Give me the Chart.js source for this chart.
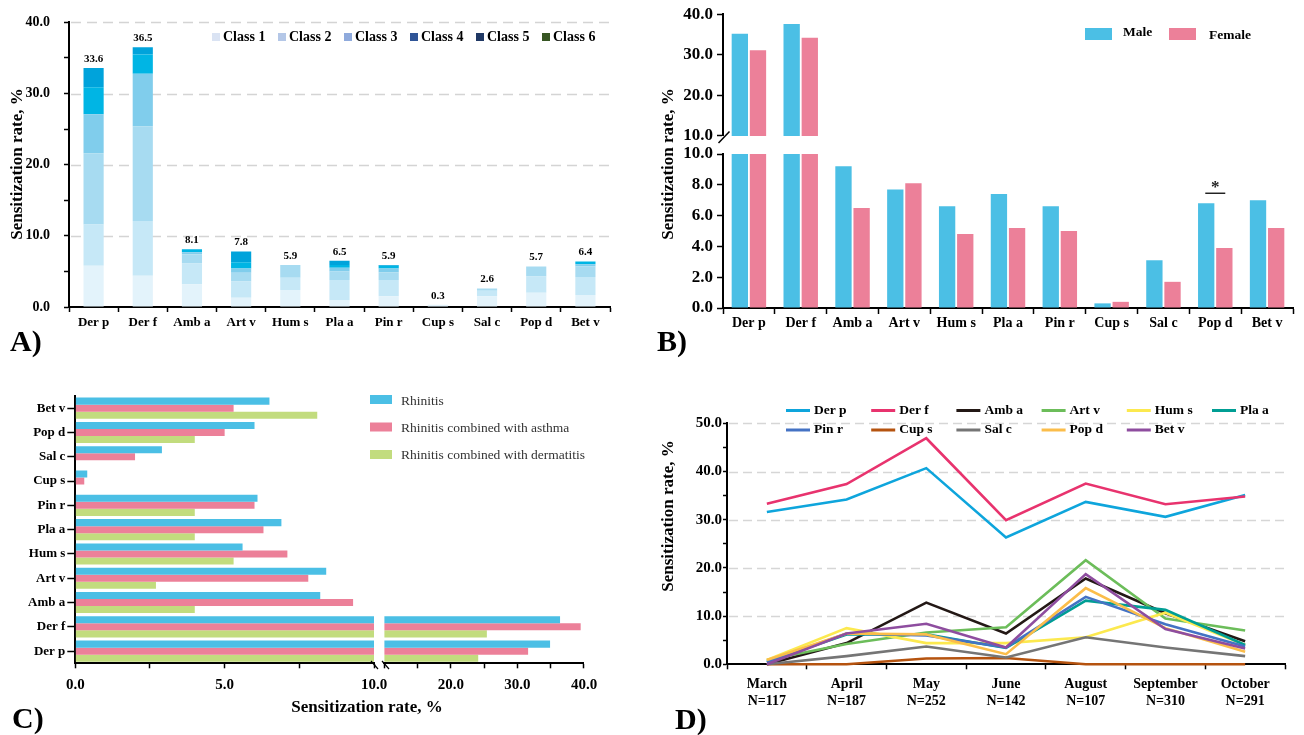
<!DOCTYPE html>
<html>
<head>
<meta charset="utf-8">
<title>Allergen sensitization rates</title>
<script src="https://cdn.jsdelivr.net/npm/chart.js@4.4.1/dist/chart.umd.min.js"></script>
<style>
  html, body { margin: 0; padding: 0; background: #fff; }
  #page { position: relative; width: 1304px; height: 735px; overflow: hidden; background: #fff; }
  #page canvas { position: absolute; left: 0; top: 0; }
</style>
</head>
<body>
<div id="page">
  <canvas id="chartA" width="1304" height="735"></canvas>
  <canvas id="chartBTop" width="1304" height="735"></canvas>
  <canvas id="chartBBottom" width="1304" height="735"></canvas>
  <canvas id="chartCLeft" width="1304" height="735"></canvas>
  <canvas id="chartCRight" width="1304" height="735"></canvas>
  <canvas id="chartD" width="1304" height="735"></canvas>
</div>
<script>
// ---------- data ----------
const allergens = ['Der p', 'Der f', 'Amb a', 'Art v', 'Hum s', 'Pla a', 'Pin r', 'Cup s', 'Sal c', 'Pop d', 'Bet v'];

// A) sensitization rate split by class level (%)
const classNames = ['Class 1', 'Class 2', 'Class 3', 'Class 4', 'Class 5', 'Class 6'];
const class1 = [5.8, 4.4, 3.2, 1.3, 2.4, 0.9, 1.5, 0.3, 1.5, 2.0, 1.7];
const class2 = [5.8, 7.7, 2.9, 2.3, 1.7, 2.9, 2.3, 0.0, 0.8, 2.3, 2.5];
const class3 = [10.0, 13.3, 1.3, 1.2, 1.8, 1.2, 1.1, 0.0, 0.3, 1.4, 1.5];
const class4 = [5.5, 7.4, 0.3, 0.6, 0.0, 0.5, 0.5, 0.0, 0.0, 0.0, 0.3];
const class5 = [3.8, 2.7, 0.4, 0.9, 0.0, 0.4, 0.4, 0.0, 0.0, 0.0, 0.4];
const class6 = [2.7, 1.0, 0.0, 1.5, 0.0, 0.6, 0.1, 0.0, 0.0, 0.0, 0.0];
const classSeries = [class1, class2, class3, class4, class5, class6];

// B) by sex (%)
const maleRate = [35.2, 37.6, 9.2, 7.7, 6.6, 7.4, 6.6, 0.3, 3.1, 6.8, 7.0];
const femaleRate = [31.1, 34.2, 6.5, 8.1, 4.8, 5.2, 5.0, 0.4, 1.7, 3.9, 5.2];

// C) by diagnosis (%)
const rhinitis = [34.9, 36.4, 8.2, 8.4, 5.6, 6.9, 6.1, 0.4, 2.9, 6.0, 6.5];
const rhinitisAsthma = [31.6, 39.5, 9.3, 7.8, 7.1, 6.3, 6.0, 0.3, 2.0, 5.0, 5.3];
const rhinitisDermatitis = [24.1, 25.4, 4.0, 2.7, 5.3, 4.0, 4.0, 0.0, 0.0, 4.0, 8.1];
const diagnosisNames = ['Rhinitis', 'Rhinitis combined with asthma', 'Rhinitis combined with dermatitis'];

// D) by month of testing (%)
const months = ['March', 'April', 'May', 'June', 'August', 'September', 'October'];
const monthN = [117, 187, 252, 142, 107, 310, 291];
const monthlyDerP = [31.6, 34.2, 40.7, 26.3, 33.7, 30.6, 35.1];
const monthlyDerF = [33.3, 37.4, 46.9, 29.9, 37.5, 33.2, 34.8];
const monthlyAmbA = [0.0, 4.4, 12.8, 6.4, 17.8, 10.6, 4.8];
const monthlyArtV = [0.9, 4.2, 6.6, 7.7, 21.6, 9.5, 7.0];
const monthlyHumS = [0.9, 7.5, 4.4, 4.4, 5.6, 10.7, 4.0];
const monthlyPlaA = [0.5, 6.2, 6.2, 3.4, 13.2, 11.3, 4.0];
const monthlyPinR = [0.5, 6.4, 6.0, 3.5, 14.0, 8.3, 3.7];
const monthlyCupS = [0.0, 0.0, 1.2, 1.3, 0.0, 0.0, 0.0];
const monthlySalC = [0.0, 1.7, 3.7, 1.4, 5.6, 3.5, 1.7];
const monthlyPopD = [0.9, 6.4, 6.2, 2.1, 15.8, 7.5, 2.6];
const monthlyBetV = [0.0, 6.4, 8.4, 3.5, 18.7, 7.3, 3.3];
const monthlySeries = [monthlyDerP, monthlyDerF, monthlyAmbA, monthlyArtV, monthlyHumS, monthlyPlaA,
                       monthlyPinR, monthlyCupS, monthlySalC, monthlyPopD, monthlyBetV];

// ---------- styling ----------
const classBarColors = ['#e3f3fb', '#c6e8f7', '#a7dbf1', '#80cdec', '#00b5e4', '#00a3db'];
const classKeyColors = ['#dae3f3', '#b4c7e7', '#8faadc', '#2f5597', '#203864', '#375623'];
const sexColors = ['#4bbfe5', '#ec8099'];
const diagnosisColors = ['#4bbfe5', '#ec8099', '#c2dc7e'];
const monthlyColors = ['#0ea5dc', '#e8336e', '#231815', '#6cbd5a', '#fce94f', '#009e94',
                       '#4472c4', '#b5530f', '#757575', '#fbbd4a', '#8e4d9f'];

const W = 1304, H = 735;
const SERIF = "'Liberation Serif', 'Times New Roman', serif";
const TITLE = 'Sensitization rate, %';

Chart.defaults.font.family = SERIF;
Chart.defaults.font.weight = 'bold';
Chart.defaults.color = '#000';
Chart.defaults.animation = false;
Chart.defaults.responsive = false;
Chart.defaults.events = [];
Chart.defaults.plugins.legend.display = false;
Chart.defaults.plugins.tooltip.enabled = false;

// every canvas covers the full page, so the plot area is placed by padding
function frame(left, top, right, bottom, yWidth, xHeight) {
  return { padding: { left: left - yWidth, top: top, right: W - right, bottom: H - bottom - xHeight } };
}
const tickGrid = (len) => ({ display: true, drawOnChartArea: false, tickLength: len, tickColor: '#000', tickWidth: 1.5 });
const axisLine = { display: true, color: '#000', width: 2 };

function drawText(ctx, t) {
  ctx.save();
  ctx.translate(t.x, t.y);
  if (t.rot) ctx.rotate(t.rot);
  ctx.font = `${t.weight || 'bold'} ${t.size}px ${SERIF}`;
  ctx.fillStyle = t.color || '#000';
  ctx.textAlign = t.align || 'left';
  ctx.textBaseline = t.baseline || 'middle';
  ctx.fillText(t.text, 0, 0);
  ctx.restore();
}

// extra drawing: dashed value grid, legends, titles, break marks
function decor(spec) {
  return {
    id: 'decor',
    beforeDatasetsDraw(chart) {
      if (!spec.grid) return;
      const ctx = chart.ctx, a = chart.chartArea, s = chart.scales.y;
      ctx.save();
      ctx.strokeStyle = spec.grid.color;
      ctx.lineWidth = spec.grid.width;
      ctx.setLineDash(spec.grid.dash);
      spec.grid.values.forEach(v => {
        const p = Math.round(s.getPixelForValue(v)) + 0.5;
        ctx.beginPath(); ctx.moveTo(a.left + 2, p); ctx.lineTo(a.right, p); ctx.stroke();
      });
      ctx.restore();
    },
    afterDraw(chart) {
      const ctx = chart.ctx;
      ctx.save();
      (spec.boxes || []).forEach(b => { ctx.fillStyle = b.color; ctx.fillRect(b.x, b.y, b.w, b.h); });
      (spec.strokes || []).forEach(l => {
        ctx.strokeStyle = l.color || '#000';
        ctx.lineWidth = l.width || 1.5;
        ctx.setLineDash([]);
        ctx.beginPath(); ctx.moveTo(l.x1, l.y1); ctx.lineTo(l.x2, l.y2); ctx.stroke();
      });
      (spec.texts || []).forEach(t => drawText(ctx, t));
      if (spec.extra) spec.extra(chart, ctx);
      ctx.restore();
    }
  };
}

// ---------- A) stacked class levels ----------
const classTotals = allergens.map((_, i) => classSeries.reduce((s, d) => s + d[i], 0));

new Chart(document.getElementById('chartA'), {
  type: 'bar',
  data: {
    labels: allergens,
    datasets: classSeries.map((d, i) => ({
      label: classNames[i], data: d, backgroundColor: classBarColors[i],
      borderWidth: 0, categoryPercentage: 1, barPercentage: 0.41, clip: 0
    }))
  },
  options: {
    layout: frame(69, 15, 610, 307, 69, 35),
    scales: {
      x: {
        stacked: true,
        grid: tickGrid(5), border: axisLine,
        ticks: { font: { size: 13 }, padding: 3, autoSkip: false, maxRotation: 0 },
        afterFit: s => { s.height = 35; }
      },
      y: {
        stacked: true, min: 0, max: 40,
        grid: tickGrid(5), border: axisLine,
        ticks: { stepSize: 5, autoSkip: false, font: { size: 14 }, padding: 14,
                 callback: v => (v % 10 === 0 ? v.toFixed(1) : '') },
        afterFit: s => { s.width = 69; }
      }
    }
  },
  plugins: [decor({
    grid: { values: [10, 20, 30, 40], color: '#d4d4d4', width: 1.5, dash: [10, 6] },
    boxes: classKeyColors.map((c, i) => ({ color: c, x: 212 + 66 * i, y: 33, w: 8, h: 8 })),
    texts: [
      ...classNames.map((n, i) => ({ text: n, x: 223 + 66 * i, y: 37.5, size: 14 })),
      { text: TITLE, x: 18, y: 164, size: 17, rot: -Math.PI / 2, align: 'center' },
      { text: 'A)', x: 10, y: 343, size: 30 }
    ],
    extra(chart, ctx) {
      const xs = chart.scales.x, ys = chart.scales.y;
      classTotals.forEach((total, i) => drawText(ctx, {
        text: total.toFixed(1), x: xs.getPixelForValue(i), y: ys.getPixelForValue(total) - 9,
        size: 11, align: 'center'
      }));
    }
  })]
});

// ---------- B) male vs female, broken value axis ----------
const sexDatasets = () => [maleRate, femaleRate].map((d, i) => ({
  label: i === 0 ? 'Male' : 'Female', data: d, backgroundColor: sexColors[i],
  borderWidth: 0, categoryPercentage: 0.7, barPercentage: 0.9, clip: 0
}));

new Chart(document.getElementById('chartBTop'), {
  type: 'bar',
  data: { labels: allergens, datasets: sexDatasets() },
  options: {
    layout: frame(723, 12.3, 1293, 136, 73, 0),
    scales: {
      x: { display: false },
      y: {
        min: 10, max: 40,
        grid: tickGrid(6), border: axisLine,
        ticks: { stepSize: 10, font: { size: 17 }, padding: 4, callback: v => v.toFixed(1) },
        afterFit: s => { s.width = 73; }
      }
    }
  },
  plugins: [decor({
    strokes: [{ x1: 718.5, y1: 143, x2: 729.5, y2: 131.5, width: 1.5 }]
  })]
});

new Chart(document.getElementById('chartBBottom'), {
  type: 'bar',
  data: { labels: allergens, datasets: sexDatasets() },
  options: {
    layout: frame(723, 154, 1293, 308, 73, 30),
    scales: {
      x: {
        grid: tickGrid(6), border: axisLine,
        ticks: { font: { size: 14 }, padding: 1, autoSkip: false, maxRotation: 0 },
        afterFit: s => { s.height = 30; }
      },
      y: {
        min: 0, max: 10,
        grid: tickGrid(6), border: axisLine,
        ticks: { stepSize: 2, font: { size: 17 }, padding: 4, callback: v => v.toFixed(1) },
        afterFit: s => { s.width = 73; }
      }
    }
  },
  plugins: [decor({
    boxes: [
      { color: sexColors[0], x: 1085, y: 28, w: 27, h: 12 },
      { color: sexColors[1], x: 1169, y: 28, w: 27, h: 12 }
    ],
    texts: [
      { text: 'Male', x: 1123, y: 33, size: 13.5 },
      { text: 'Female', x: 1209, y: 36, size: 13.5 },
      { text: TITLE, x: 669, y: 164, size: 17, rot: -Math.PI / 2, align: 'center' },
      { text: 'B)', x: 657, y: 343, size: 30 }
    ],
    extra(chart, ctx) {
      // significance mark over Pop d
      const i = allergens.indexOf('Pop d');
      const x = chart.scales.x.getPixelForValue(i);
      const top = chart.scales.y.getPixelForValue(Math.max(maleRate[i], femaleRate[i]));
      ctx.strokeStyle = '#222'; ctx.lineWidth = 1.5;
      ctx.beginPath(); ctx.moveTo(x - 10, top - 10); ctx.lineTo(x + 10, top - 10); ctx.stroke();
      drawText(ctx, { text: '*', x: x, y: top - 11, size: 17, align: 'center', baseline: 'alphabetic', color: '#222' });
    }
  })]
});

// ---------- C) by diagnosis, horizontal bars with broken axis ----------
const topDown = arr => arr.slice().reverse();
const diagnosisDatasets = () => [rhinitis, rhinitisAsthma, rhinitisDermatitis].map((d, i) => ({
  label: diagnosisNames[i], data: topDown(d), backgroundColor: diagnosisColors[i],
  borderWidth: 0, categoryPercentage: 0.87, barPercentage: 1, clip: 0
}));

new Chart(document.getElementById('chartCLeft'), {
  type: 'bar',
  data: { labels: topDown(allergens), datasets: diagnosisDatasets() },
  options: {
    indexAxis: 'y',
    layout: frame(75.3, 396, 374, 663.3, 75.3, 30),
    scales: {
      y: {
        offset: true,
        grid: { ...tickGrid(8), offset: false }, border: axisLine,
        ticks: { font: { size: 13 }, padding: 2, autoSkip: false },
        afterFit: s => { s.width = 75.3; }
      },
      x: {
        min: 0, max: 10,
        grid: tickGrid(5), border: axisLine,
        ticks: { stepSize: 2.5, font: { size: 15 }, padding: 8, autoSkip: false,
                 callback: v => (v % 5 === 0 ? v.toFixed(1) : '') },
        afterFit: s => { s.height = 30; }
      }
    }
  },
  plugins: [decor({
    texts: [{ text: 'C)', x: 12, y: 720, size: 30 }]
  })]
});

new Chart(document.getElementById('chartCRight'), {
  type: 'bar',
  data: { labels: topDown(allergens), datasets: diagnosisDatasets() },
  options: {
    indexAxis: 'y',
    layout: frame(384.4, 396, 584, 663.3, 0, 30),
    scales: {
      y: { display: false, offset: true },
      x: {
        min: 10, max: 40,
        grid: tickGrid(5), border: axisLine,
        ticks: { stepSize: 5, font: { size: 15 }, padding: 8, autoSkip: false,
                 callback: v => (v % 10 === 0 && v > 10 ? v.toFixed(1) : '') },
        afterFit: s => { s.height = 30; }
      }
    }
  },
  plugins: [decor({
    boxes: diagnosisColors.map((c, i) => ({ color: c, x: 370, y: 395 + 27.5 * i, w: 22, h: 9 })),
    strokes: [
      { x1: 371, y1: 661, x2: 378, y2: 669, width: 1.2 },
      { x1: 382, y1: 661, x2: 389, y2: 669, width: 1.2 }
    ],
    texts: [
      ...diagnosisNames.map((n, i) => ({ text: n, x: 401, y: 401 + 27 * i, size: 13.5, weight: 'normal', color: '#333' })),
      { text: TITLE, x: 367, y: 708, size: 17, align: 'center' }
    ]
  })]
});

// ---------- D) monthly trend ----------
new Chart(document.getElementById('chartD'), {
  type: 'line',
  data: {
    labels: months.map((m, i) => [m, 'N=' + monthN[i]]),
    datasets: monthlySeries.map((d, i) => ({
      label: allergens[i], data: d, borderColor: monthlyColors[i], backgroundColor: monthlyColors[i],
      borderWidth: 2.6, pointRadius: 0, tension: 0, fill: false, order: 10 - i, clip: false
    }))
  },
  options: {
    layout: frame(727, 423.3, 1285, 664.3, 77, 60),
    scales: {
      x: {
        offset: true,
        grid: { ...tickGrid(5), offset: true }, border: axisLine,
        ticks: { font: { size: 14 }, padding: 7, autoSkip: false, maxRotation: 0 },
        afterFit: s => { s.height = 60; }
      },
      y: {
        min: 0, max: 50,
        grid: tickGrid(4), border: axisLine,
        ticks: { stepSize: 5, autoSkip: false, font: { size: 15 }, padding: 1,
                 callback: v => (v % 10 === 0 ? v.toFixed(1) : '') },
        afterFit: s => { s.width = 77; }
      }
    }
  },
  plugins: [decor({
    grid: { values: [10, 20, 30, 40, 50], color: '#d6d6d6', width: 1.5, dash: [9, 5] },
    strokes: allergens.map((n, i) => {
      const col = i < 6 ? i : i - 6, rowY = i < 6 ? 410.5 : 430;
      const x = 786 + 85.2 * col;
      return { x1: x, y1: rowY, x2: x + 24, y2: rowY, color: monthlyColors[i], width: 3 };
    }),
    texts: [
      ...allergens.map((n, i) => {
        const col = i < 6 ? i : i - 6, rowY = i < 6 ? 410.5 : 430;
        return { text: n, x: 786 + 85.2 * col + 28, y: rowY, size: 13.5 };
      }),
      { text: TITLE, x: 669, y: 516, size: 17, rot: -Math.PI / 2, align: 'center' },
      { text: 'D)', x: 675, y: 721, size: 30 }
    ]
  })]
});
</script>
</body>
</html>
